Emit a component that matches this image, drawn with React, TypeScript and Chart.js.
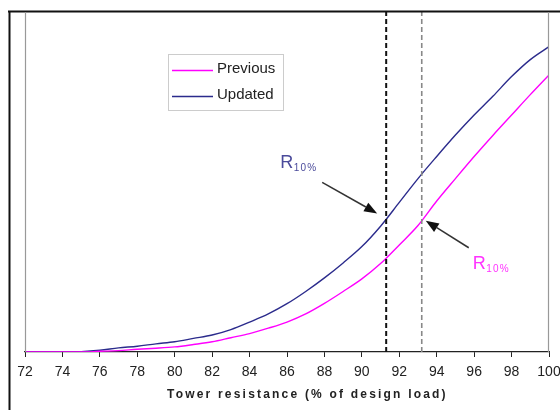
import { useEffect, useRef } from "react";
import { Chart, registerables } from "chart.js";

Chart.register(...registerables);

const xValues = [72, 73, 74, 75, 76, 77, 78, 79, 80, 81, 82, 83, 84, 85, 86, 87, 88, 89, 90, 91, 92, 93, 94, 95, 96, 97, 98, 99, 100];
const previousValues = [0, 0, 0, 0, 0.002, 0.004, 0.008, 0.011, 0.015, 0.022, 0.03, 0.042, 0.054, 0.07, 0.088, 0.112, 0.143, 0.178, 0.215, 0.26, 0.315, 0.372, 0.444, 0.51, 0.575, 0.637, 0.697, 0.757, 0.815];
const updatedValues = [0, 0, 0, 0.001, 0.005, 0.012, 0.017, 0.024, 0.03, 0.04, 0.05, 0.066, 0.088, 0.112, 0.142, 0.178, 0.218, 0.262, 0.31, 0.37, 0.44, 0.51, 0.575, 0.638, 0.697, 0.752, 0.81, 0.86, 0.898];
const seriesNames = ["Previous", "Updated"];
const seriesColors = ["#ff00ff", "#2b2b8c"];
const labelColors = ["#ff33ff", "#4b4b9b"];
const r10X = [93.2, 91.3]; // previous, updated
const r10Y = [0.386, 0.39];
const xAxisTitle = "Tower resistance (% of design load)";

const FONT = '"Liberation Sans", Arial, sans-serif';

export default function App() {
  const canvasRef = useRef<HTMLCanvasElement | null>(null);

  useEffect(() => {
    const canvas = canvasRef.current;
    if (!canvas) return;

    const overlay = {
      id: "overlay",
      afterDraw(chart: any) {
        const ctx = chart.ctx as CanvasRenderingContext2D;
        const area = chart.chartArea;
        const xs = chart.scales.x;
        const ys = chart.scales.y;
        ctx.save();

        // frame
        ctx.strokeStyle = "#111";
        ctx.lineWidth = 2;
        ctx.beginPath();
        ctx.moveTo(8, 11.5);
        ctx.lineTo(560, 11.5);
        ctx.moveTo(9.5, 11);
        ctx.lineTo(9.5, 410);
        ctx.stroke();
        ctx.strokeStyle = "#999";
        ctx.lineWidth = 1.2;
        ctx.beginPath();
        ctx.moveTo(area.left + 0.5, area.top);
        ctx.lineTo(area.left + 0.5, area.bottom);
        ctx.moveTo(area.right - 0.5, area.top);
        ctx.lineTo(area.right - 0.5, area.bottom);
        ctx.stroke();

        // legend
        const lx = area.left + 143;
        const ly = area.top + 42;
        ctx.fillStyle = "#fff";
        ctx.fillRect(lx, ly, 115, 56);
        ctx.strokeStyle = "#ccc";
        ctx.lineWidth = 1;
        ctx.strokeRect(lx + 0.5, ly + 0.5, 115, 56);
        ctx.font = `15px ${FONT}`;
        ctx.textBaseline = "middle";
        ctx.textAlign = "left";
        seriesNames.forEach((name, i) => {
          const y = ly + 15 + i * 26;
          ctx.strokeStyle = seriesColors[i];
          ctx.lineWidth = 1.5;
          ctx.beginPath();
          ctx.moveTo(lx + 4, y + 1.5);
          ctx.lineTo(lx + 45, y + 1.5);
          ctx.stroke();
          ctx.fillStyle = "#222";
          ctx.fillText(name, lx + 49, y);
        });

        // R10% annotations
        const tipOff = [[4, 0], [-9, -6]];
        const tailOff = [[47, 27], [-64, -37]];
        const labOff = [[51, 48], [-106, -51]];
        for (let i = 0; i < 2; i++) {
          const px = xs.getPixelForValue(r10X[i]);
          const py = ys.getPixelForValue(r10Y[i]);
          const tx = px + tipOff[i][0];
          const ty = py + tipOff[i][1];
          const sx = px + tailOff[i][0];
          const sy = py + tailOff[i][1];
          const ang = Math.atan2(ty - sy, tx - sx);
          const hl = 13;
          const hw = 5;
          const bx = tx - hl * Math.cos(ang);
          const by = ty - hl * Math.sin(ang);
          ctx.strokeStyle = "#333";
          ctx.lineWidth = 1.5;
          ctx.beginPath();
          ctx.moveTo(sx, sy);
          ctx.lineTo(bx, by);
          ctx.stroke();
          ctx.fillStyle = "#111";
          ctx.beginPath();
          ctx.moveTo(tx, ty);
          ctx.lineTo(bx + hw * Math.sin(ang), by - hw * Math.cos(ang));
          ctx.lineTo(bx - hw * Math.sin(ang), by + hw * Math.cos(ang));
          ctx.closePath();
          ctx.fill();

          const rx = px + labOff[i][0];
          const ry = py + labOff[i][1];
          ctx.fillStyle = labelColors[i];
          ctx.textBaseline = "alphabetic";
          ctx.textAlign = "left";
          ctx.font = `18px ${FONT}`;
          ctx.fillText("R", rx, ry);
          const rw = ctx.measureText("R").width;
          ctx.font = `10px ${FONT}`;
          (ctx as any).letterSpacing = "1.2px";
          ctx.fillText("10%", rx + rw + 0.5, ry + 3);
          (ctx as any).letterSpacing = "0px";
        }

        // x axis title
        ctx.fillStyle = "#222";
        ctx.font = `bold 12px ${FONT}`;
        (ctx as any).letterSpacing = "2.2px";
        ctx.textAlign = "left";
        ctx.textBaseline = "middle";
        ctx.fillText(xAxisTitle, area.left + 142, 395);
        (ctx as any).letterSpacing = "0px";

        ctx.restore();
      },
    };

    const chart = new Chart(canvas, {
      type: "line",
      data: {
        datasets: [
          {
            label: "R10 updated",
            data: [{ x: r10X[1], y: 0 }, { x: r10X[1], y: 1 }],
            borderColor: "#111",
            borderWidth: 2,
            borderDash: [5, 3],
            pointRadius: 0,
          },
          {
            label: "R10 previous",
            data: [{ x: r10X[0], y: 0 }, { x: r10X[0], y: 1 }],
            borderColor: "#888",
            borderWidth: 1.6,
            borderDash: [5, 3],
            pointRadius: 0,
          },
          {
            label: seriesNames[0],
            data: xValues.map((x, i) => ({ x, y: previousValues[i] })),
            borderColor: seriesColors[0],
            borderWidth: 1.4,
            pointRadius: 0,
            cubicInterpolationMode: "monotone",
          },
          {
            label: seriesNames[1],
            data: xValues.map((x, i) => ({ x, y: updatedValues[i] })),
            borderColor: seriesColors[1],
            borderWidth: 1.4,
            pointRadius: 0,
            cubicInterpolationMode: "monotone",
          },
        ],
      },
      options: {
        animation: false,
        responsive: true,
        maintainAspectRatio: false,
        layout: { padding: { left: 25, right: 11, top: 12, bottom: 0 } },
        plugins: {
          legend: { display: false },
          tooltip: { enabled: false },
          title: { display: false },
        },
        scales: {
          x: {
            type: "linear",
            min: 72,
            max: 100,
            ticks: {
              stepSize: 2,
              color: "#222",
              font: { family: FONT, size: 14 },
              padding: 7,
              maxRotation: 0,
            },
            grid: {
              drawOnChartArea: false,
              drawTicks: true,
              tickLength: 5,
              color: "#222",
            },
            border: { color: "#222", width: 1.2 },
            afterFit: (scale: any) => {
              scale.height = 58;
              scale.paddingLeft = 0;
              scale.paddingRight = 0;
            },
          },
          y: {
            display: false,
            min: 0,
            max: 1,
          },
        },
      },
      plugins: [overlay],
    });

    return () => chart.destroy();
  }, []);

  return (
    <div style={{ position: "fixed", left: 0, top: 0, width: 560, height: 410, background: "#fff" }}>
      <canvas ref={canvasRef} />
    </div>
  );
}
